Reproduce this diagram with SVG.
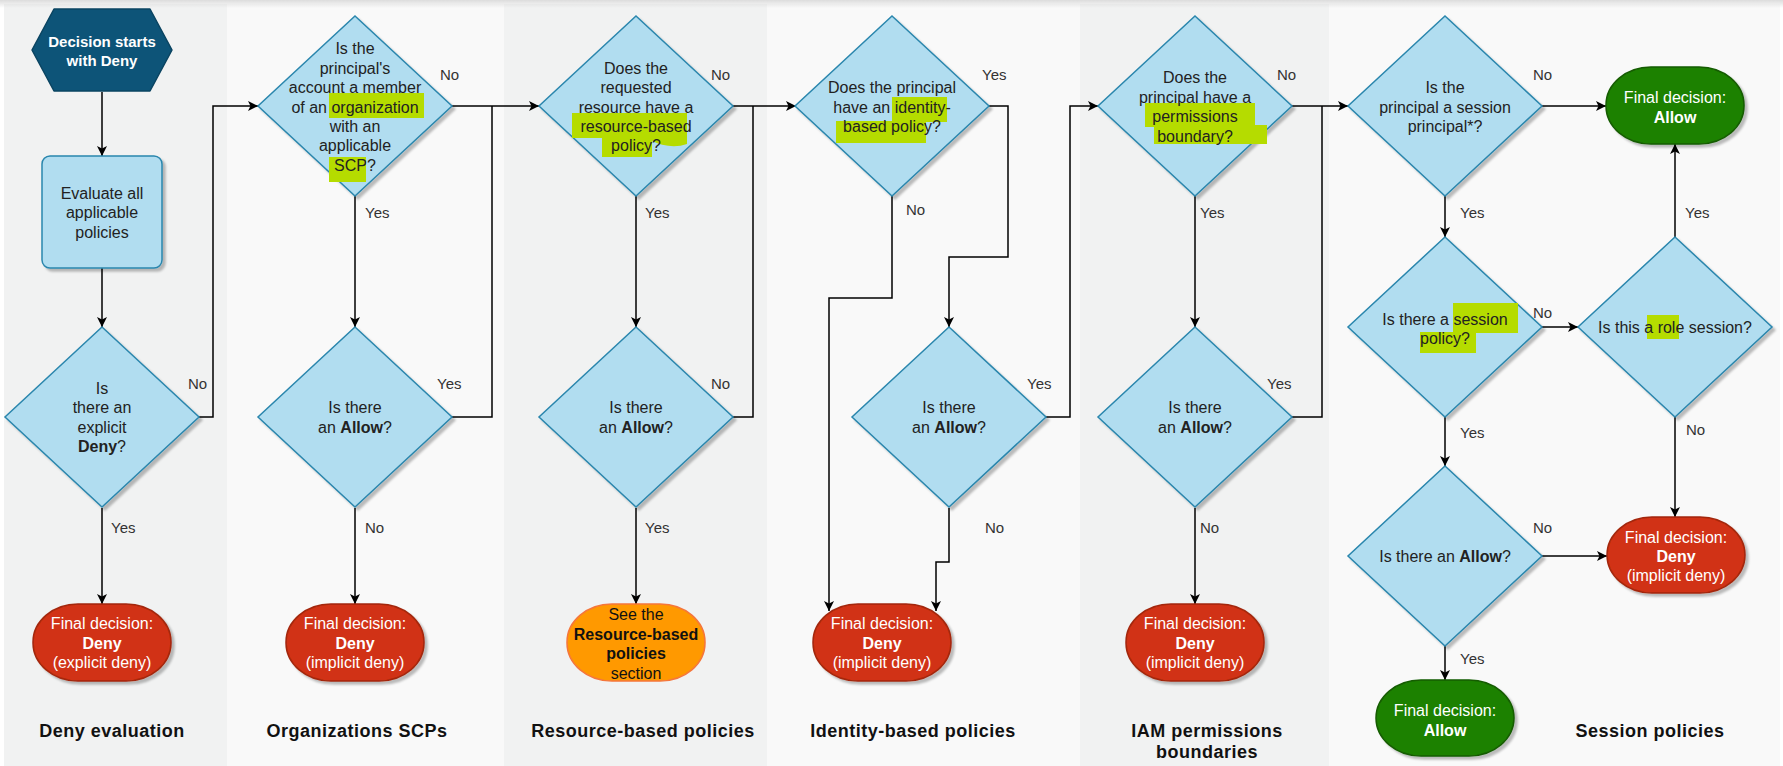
<svg xmlns="http://www.w3.org/2000/svg" width="1783" height="766" viewBox="0 0 1783 766">
<defs>
<marker id="arr" viewBox="0 0 10 10" refX="10" refY="5" markerWidth="10" markerHeight="10" markerUnits="userSpaceOnUse" orient="auto">
<path d="M0,0 L10,5 L0,10 L2.5,5 Z" fill="#000"/>
</marker>
<filter id="sh" x="-10%" y="-10%" width="130%" height="130%">
<feDropShadow dx="3" dy="3" stdDeviation="1.2" flood-color="#000" flood-opacity="0.25"/>
</filter>
<linearGradient id="topg" x1="0" y1="0" x2="0" y2="1">
<stop offset="0" stop-color="#dcdcdc"/>
<stop offset="1" stop-color="#dcdcdc" stop-opacity="0"/>
</linearGradient>
</defs>
<style>
.dia{fill:#b1ddf0;stroke:#2a86ad;stroke-width:1.5;filter:url(#sh)}
.deny{fill:#d13212;stroke:#a3260d;stroke-width:1.5;filter:url(#sh)}
.allow{fill:#1d8102;stroke:#135c00;stroke-width:1.5;filter:url(#sh)}
.orng{fill:#ff9900;stroke:#f5763a;stroke-width:1.5}
.t{font-family:"Liberation Sans",Arial,sans-serif;font-size:16px;fill:#222;text-anchor:middle}
.w{font-family:"Liberation Sans",Arial,sans-serif;font-size:16px;fill:#fff;text-anchor:middle}
.b{font-weight:bold}
.lbl{font-family:"Liberation Sans",Arial,sans-serif;font-size:15px;fill:#333}
.ttl{font-family:"Liberation Sans",Arial,sans-serif;font-size:18px;font-weight:bold;fill:#111;text-anchor:middle;letter-spacing:0.5px}
.hl{fill:#b5dc00}
.c{fill:none;stroke:#000;stroke-width:1.5}
.ca{fill:none;stroke:#000;stroke-width:1.5;marker-end:url(#arr)}
</style>
<rect x="0" y="0" width="1783" height="766" fill="#ffffff"/>
<g id="lanes">
<rect x="4" y="4" width="223" height="762" fill="#f1f2f2"/>
<rect x="227" y="4" width="277" height="762" fill="#f9f9f9"/>
<rect x="504" y="4" width="263" height="762" fill="#f1f2f2"/>
<rect x="767" y="4" width="313" height="762" fill="#f9f9f9"/>
<rect x="1080" y="4" width="249" height="762" fill="#f1f2f2"/>
<rect x="1329" y="4" width="451" height="762" fill="#f9f9f9"/>
<rect x="0" y="0" width="1783" height="8" fill="url(#topg)"/>
</g>
<g id="connectors">
<path class="ca" d="M102,92 V156"/>
<path class="ca" d="M102,268 V327"/>
<path class="ca" d="M199,417 H213 V106 H258"/>
<path class="ca" d="M102,508 V604"/>
<path class="ca" d="M452,106 H539"/>
<path class="ca" d="M355,196 V327"/>
<path class="c" d="M452,417 H492 V106"/>
<path class="ca" d="M355,508 V604"/>
<path class="ca" d="M733,106 H796"/>
<path class="ca" d="M636,196 V327"/>
<path class="c" d="M733,417 H753 V106"/>
<path class="ca" d="M636,508 V604"/>
<path class="ca" d="M989,106 H1008 V257 H949 V327"/>
<path class="ca" d="M892,196 V298 H829 V611"/>
<path class="ca" d="M1046,417 H1070 V106 H1098"/>
<path class="ca" d="M949,508 V562 H936 V611"/>
<path class="ca" d="M1292,106 H1348"/>
<path class="ca" d="M1195,196 V327"/>
<path class="c" d="M1292,417 H1322 V106"/>
<path class="ca" d="M1195,508 V604"/>
<path class="ca" d="M1542,106 H1606"/>
<path class="ca" d="M1445,196 V237"/>
<path class="ca" d="M1542,327 H1578"/>
<path class="ca" d="M1445,417 V466"/>
<path class="ca" d="M1675,237 V144"/>
<path class="ca" d="M1675,417 V517"/>
<path class="ca" d="M1542,556 H1607"/>
<path class="ca" d="M1445,646 V680"/>
</g>
<g id="edge-labels">
<text class="lbl" x="188" y="389">No</text>
<text class="lbl" x="111" y="533">Yes</text>
<text class="lbl" x="440" y="80">No</text>
<text class="lbl" x="365" y="218">Yes</text>
<text class="lbl" x="437" y="389">Yes</text>
<text class="lbl" x="365" y="533">No</text>
<text class="lbl" x="711" y="80">No</text>
<text class="lbl" x="645" y="218">Yes</text>
<text class="lbl" x="711" y="389">No</text>
<text class="lbl" x="645" y="533">Yes</text>
<text class="lbl" x="982" y="80">Yes</text>
<text class="lbl" x="906" y="215">No</text>
<text class="lbl" x="1027" y="389">Yes</text>
<text class="lbl" x="985" y="533">No</text>
<text class="lbl" x="1277" y="80">No</text>
<text class="lbl" x="1200" y="218">Yes</text>
<text class="lbl" x="1267" y="389">Yes</text>
<text class="lbl" x="1200" y="533">No</text>
<text class="lbl" x="1533" y="80">No</text>
<text class="lbl" x="1460" y="218">Yes</text>
<text class="lbl" x="1533" y="318">No</text>
<text class="lbl" x="1460" y="438">Yes</text>
<text class="lbl" x="1533" y="533">No</text>
<text class="lbl" x="1460" y="664">Yes</text>
<text class="lbl" x="1685" y="218">Yes</text>
<text class="lbl" x="1686" y="435">No</text>
</g>
<g id="start">
<polygon points="32,50 54,9 150,9 172,50 150,91 54,91" fill="#0d5478" stroke="#0a4461" stroke-width="1.5" stroke-linejoin="round"/>
<text class="w b" font-size="15" x="102" y="47" style="font-size:15px">Decision starts</text>
<text class="w b" x="102" y="66" style="font-size:15px">with Deny</text>
</g>
<g id="evaluate">
<rect class="dia" x="42" y="156" width="120" height="112" rx="8"/>
<text class="t" x="102" y="199">Evaluate all</text>
<text class="t" x="102" y="218">applicable</text>
<text class="t" x="102" y="238">policies</text>
</g>
<g id="deny-check">
<polygon class="dia" points="102,327 199,417 102,507 5,417"/>
<text class="t" x="102" y="394">Is</text>
<text class="t" x="102" y="413">there an</text>
<text class="t" x="102" y="433">explicit</text>
<text class="t" x="102" y="452"><tspan class="b">Deny</tspan>?</text>
</g>
<g id="explicit-deny">
<rect class="deny" x="33" y="604" width="138" height="77" rx="45" ry="38"/>
<text class="w" x="102" y="629">Final decision:</text>
<text class="w b" x="102" y="649">Deny</text>
<text class="w" x="102" y="668">(explicit deny)</text>
</g>
<g id="scp-check">
<polygon class="dia" points="355,16 452,106 355,196 258,106"/>
<rect class="hl" x="329" y="93" width="95" height="25"/>
<rect class="hl" x="329" y="157" width="37" height="25"/>
<text class="t" x="355" y="54">Is the</text>
<text class="t" x="355" y="74">principal's</text>
<text class="t" x="355" y="93">account a member</text>
<text class="t" x="355" y="113">of an organization</text>
<text class="t" x="355" y="132">with an</text>
<text class="t" x="355" y="151">applicable</text>
<text class="t" x="355" y="171">SCP?</text>
</g>
<g id="scp-allow">
<polygon class="dia" points="355,327 452,417 355,507 258,417"/>
<text class="t" x="355" y="413">Is there</text>
<text class="t" x="355" y="433">an <tspan class="b">Allow</tspan>?</text>
</g>
<g id="scp-deny">
<rect class="deny" x="286" y="604" width="138" height="77" rx="45" ry="38"/>
<text class="w" x="355" y="629">Final decision:</text>
<text class="w b" x="355" y="649">Deny</text>
<text class="w" x="355" y="668">(implicit deny)</text>
</g>
<g id="resource-check">
<polygon class="dia" points="636,16 733,106 636,196 539,106"/>
<rect class="hl" x="572" y="113" width="115" height="25"/>
<rect class="hl" x="602" y="136" width="50" height="21"/>
<path class="hl" d="M650,140 Q670,150 687,144 L687,138 L650,138 Z"/>
<text class="t" x="636" y="74">Does the</text>
<text class="t" x="636" y="93">requested</text>
<text class="t" x="636" y="113">resource have a</text>
<text class="t" x="636" y="132">resource-based</text>
<text class="t" x="636" y="151">policy?</text>
</g>
<g id="resource-allow">
<polygon class="dia" points="636,327 733,417 636,507 539,417"/>
<text class="t" x="636" y="413">Is there</text>
<text class="t" x="636" y="433">an <tspan class="b">Allow</tspan>?</text>
</g>
<g id="resource-see">
<rect class="orng" x="567" y="604" width="138" height="77" rx="45" ry="38"/>
<text class="t" x="636" y="620" style="fill:#111">See the</text>
<text class="t b" x="636" y="640" style="fill:#111">Resource-based</text>
<text class="t b" x="636" y="659" style="fill:#111">policies</text>
<text class="t" x="636" y="679" style="fill:#111">section</text>
</g>
<g id="identity-check">
<polygon class="dia" points="892,16 989,106 892,196 795,106"/>
<rect class="hl" x="892" y="97" width="55" height="25"/>
<rect class="hl" x="836" y="121" width="90" height="22"/>
<text class="t" x="892" y="93">Does the principal</text>
<text class="t" x="892" y="113">have an identity-</text>
<text class="t" x="892" y="132">based policy?</text>
</g>
<g id="identity-allow">
<polygon class="dia" points="949,327 1046,417 949,507 852,417"/>
<text class="t" x="949" y="413">Is there</text>
<text class="t" x="949" y="433">an <tspan class="b">Allow</tspan>?</text>
</g>
<g id="identity-deny">
<rect class="deny" x="813" y="604" width="138" height="77" rx="45" ry="38"/>
<text class="w" x="882" y="629">Final decision:</text>
<text class="w b" x="882" y="649">Deny</text>
<text class="w" x="882" y="668">(implicit deny)</text>
</g>
<g id="boundary-check">
<polygon class="dia" points="1195,16 1292,106 1195,196 1098,106"/>
<rect class="hl" x="1145" y="103" width="110" height="24"/>
<rect class="hl" x="1154" y="125" width="113" height="19"/>
<text class="t" x="1195" y="83">Does the</text>
<text class="t" x="1195" y="103">principal have a</text>
<text class="t" x="1195" y="122">permissions</text>
<text class="t" x="1195" y="142">boundary?</text>
</g>
<g id="boundary-allow">
<polygon class="dia" points="1195,327 1292,417 1195,507 1098,417"/>
<text class="t" x="1195" y="413">Is there</text>
<text class="t" x="1195" y="433">an <tspan class="b">Allow</tspan>?</text>
</g>
<g id="boundary-deny">
<rect class="deny" x="1126" y="604" width="138" height="77" rx="45" ry="38"/>
<text class="w" x="1195" y="629">Final decision:</text>
<text class="w b" x="1195" y="649">Deny</text>
<text class="w" x="1195" y="668">(implicit deny)</text>
</g>
<g id="session-principal">
<polygon class="dia" points="1445,16 1542,106 1445,196 1348,106"/>
<text class="t" x="1445" y="93">Is the</text>
<text class="t" x="1445" y="113">principal a session</text>
<text class="t" x="1445" y="132">principal*?</text>
</g>
<g id="session-policy">
<polygon class="dia" points="1445,237 1542,327 1445,417 1348,327"/>
<rect class="hl" x="1453" y="303" width="65" height="30"/>
<rect class="hl" x="1420" y="332" width="56" height="21"/>
<text class="t" x="1445" y="325">Is there a session</text>
<text class="t" x="1445" y="344">policy?</text>
</g>
<g id="session-allow">
<polygon class="dia" points="1445,466 1542,556 1445,646 1348,556"/>
<text class="t" x="1445" y="562">Is there an <tspan class="b">Allow</tspan>?</text>
</g>
<g id="role-session">
<polygon class="dia" points="1675,237 1772,327 1675,417 1578,327"/>
<rect class="hl" x="1647" y="315" width="32" height="24"/>
<text class="t" x="1675" y="333">Is this a role session?</text>
</g>
<g id="allow-top">
<rect class="allow" x="1606" y="67" width="138" height="77" rx="45" ry="38"/>
<text class="w" x="1675" y="103">Final decision:</text>
<text class="w b" x="1675" y="123">Allow</text>
</g>
<g id="allow-bottom">
<rect class="allow" x="1376" y="680" width="138" height="76" rx="45" ry="38"/>
<text class="w" x="1445" y="716">Final decision:</text>
<text class="w b" x="1445" y="736">Allow</text>
</g>
<g id="session-deny">
<rect class="deny" x="1607" y="517" width="138" height="76" rx="45" ry="38"/>
<text class="w" x="1676" y="543">Final decision:</text>
<text class="w b" x="1676" y="562">Deny</text>
<text class="w" x="1676" y="581">(implicit deny)</text>
</g>
<g id="titles">
<text class="ttl" x="112" y="737">Deny evaluation</text>
<text class="ttl" x="357" y="737">Organizations SCPs</text>
<text class="ttl" x="643" y="737">Resource-based policies</text>
<text class="ttl" x="913" y="737">Identity-based policies</text>
<text class="ttl" x="1207" y="737">IAM permissions</text>
<text class="ttl" x="1207" y="758">boundaries</text>
<text class="ttl" x="1650" y="737">Session policies</text>
</g>
</svg>
